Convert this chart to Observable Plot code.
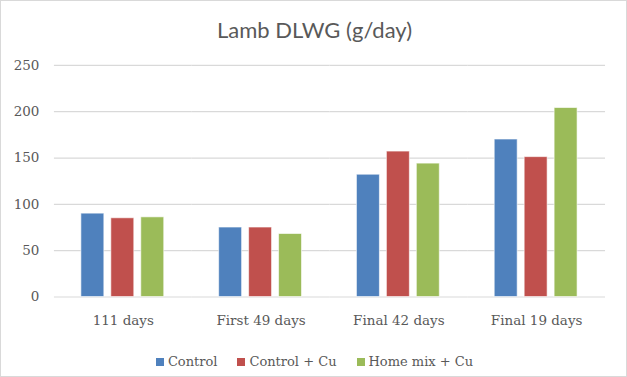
<!DOCTYPE html>
<html>
<head>
<meta charset="utf-8">
<script src="https://cdn.jsdelivr.net/npm/d3@7"></script>
<script src="https://cdn.jsdelivr.net/npm/@observablehq/plot@0.6"></script>
<style>
  html, body { margin: 0; padding: 0; background: #fff; }
  #wrap { position: relative; width: 627px; height: 377px; box-sizing: border-box; border: 1px solid #d9d9d9; overflow: hidden; }
  #chart { position: absolute; left: -1px; top: -1px; }
  #title { position: absolute; left: 0; width: 627px; top: 15px; text-align: center; font-family: Lato, "Open Sans", sans-serif; font-size: 22px; color: #595959; }
  #legend { position: absolute; left: 0; width: 627px; top: 353px; display: flex; justify-content: center; gap: 20px; font-family: "DejaVu Serif", serif; font-size: 13px; color: #595959; }
  #legend span.sw { display: inline-block; width: 8px; height: 8px; margin-right: 4px; }
  #legend div { display: flex; align-items: center; }
</style>
</head>
<body>
<div id="wrap">
  <div id="chart"></div>
  <div id="title">Lamb DLWG (g/day)</div>
  <div id="legend"></div>
</div>
<script>
const periods = ["111 days", "First 49 days", "Final 42 days", "Final 19 days"];
const seriesNames = ["Control", "Control + Cu", "Home mix + Cu"];
const colors = ["#4F81BD", "#C0504D", "#9BBB59"];
const control = [90, 75, 132, 170];
const controlCu = [85, 75, 157, 151];
const homeMixCu = [86, 68, 144, 204];
const yTicks = [0, 50, 100, 150, 200, 250];

const allSeries = [control, controlCu, homeMixCu];
const data = [];
periods.forEach((p, i) => {
  seriesNames.forEach((s, j) => {
    data.push({period: p, series: s, value: allSeries[j][i]});
  });
});

const chart = Plot.plot({
  width: 627,
  height: 377,
  marginTop: 65,
  marginBottom: 80,
  marginLeft: 52,
  marginRight: 20,
  style: {fontFamily: "'DejaVu Serif', serif", fontSize: "13.5px", color: "#595959", background: "transparent"},
  fx: {domain: periods, padding: 0, label: null, axis: "bottom", tickSize: 0, tickPadding: 18},
  x: {domain: seriesNames, paddingInner: 0.226, paddingOuter: 0.85, axis: null},
  y: {domain: [0, 250], ticks: yTicks, label: null, tickSize: 0, tickPadding: 15},
  color: {domain: seriesNames, range: colors},
  marks: [
    Plot.gridY(yTicks, {stroke: "#d9d9d9", strokeOpacity: 1, strokeWidth: 1.2}),
    Plot.barY(data, {fx: "period", x: "series", y: "value", fill: "series", stroke: "#fff", strokeOpacity: 0.6, strokeWidth: 1})
  ]
});
document.getElementById("chart").appendChild(chart);

const legend = document.getElementById("legend");
seriesNames.forEach((s, i) => {
  const d = document.createElement("div");
  d.innerHTML = `<span class="sw" style="background:${colors[i]}"></span>${s}`;
  legend.appendChild(d);
});
</script>
</body>
</html>
